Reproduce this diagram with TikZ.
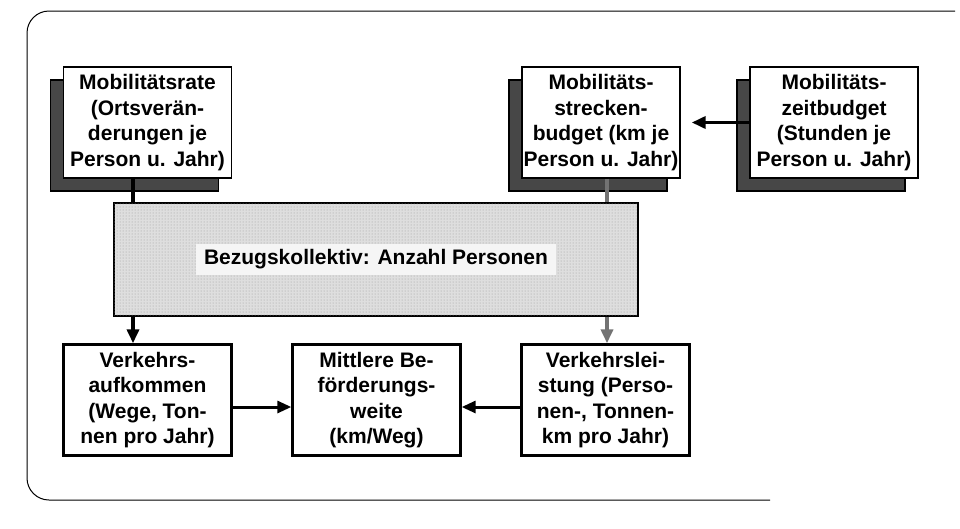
\documentclass[tikz,border=0pt]{standalone}
\usepackage{fontspec}
\setmainfont{Liberation Sans}
\usetikzlibrary{positioning, shadows, arrows.meta, patterns}

\begin{document}
\begin{tikzpicture}[x=1pt, y=-1pt, node distance=229pt, on grid,
    >={Triangle[length=14pt, width=12pt]},
    txt/.style={font=\fontsize{21pt}{25.5pt}\selectfont\bfseries, align=center, inner sep=1pt},
    topbox/.style={txt, draw, line width=1.4pt, fill=white, minimum width=168pt, minimum height=111pt,
      drop shadow={shadow xshift=-13pt, shadow yshift=-13pt, fill=black!72, draw=black, opacity=1}},
    botbox/.style={txt, draw, line width=2.4pt, fill=white, minimum width=168pt, minimum height=111pt},
    conn/.style={line width=4.5pt}]

   \useasboundingbox (0,0) rectangle (960,528);
   \draw[line width=1pt, rounded corners=22pt] (955,11) -- (27,11) -- (27,500) -- (770,500);

   % obere Reihe
   \node[topbox] (rate) at (147.5,122.5) {Mobilitätsrate\\(Ortsverän-\\derungen je\\Person u. Jahr)};
   \node[topbox, minimum width=158pt] (strecke) [right=453.5pt of rate] {Mobilitäts-\\strecken-\\budget (km je\\Person u. Jahr)};
   \node[topbox] (zeit) [right=233pt of strecke] {Mobilitäts-\\zeitbudget\\(Stunden je\\Person u. Jahr)};

   \node[draw, line width=1.4pt, fill=black!13, postaction={pattern=dots, pattern color=black!40},
         minimum width=524pt, minimum height=113pt] (koll) at (376,259.5) {};
   \node[txt, fill=black!4, inner xsep=8pt, inner ysep=6pt] (kolltext) at (koll) {Bezugskollektiv: Anzahl Personen};

   % untere Reihe
   \node[botbox] (aufkommen) [below=277.5pt of rate] {Verkehrs-\\aufkommen\\(Wege, Ton-\\nen pro Jahr)};
   \node[botbox] (weite) [right=of aufkommen] {Mittlere Be-\\förderungs-\\weite\\(km/Weg)};
   \node[botbox] (leistung) [right=of weite] {Verkehrslei-\\stung (Perso-\\nen-, Tonnen-\\km pro Jahr)};

   \coordinate (cl) at (133,0);
   \coordinate (cr) at (607,0);

   \draw[conn] (cl |- rate.south) -- (cl |- koll.north);
   \draw[conn, black!55] (cr |- strecke.south) -- (cr |- koll.north);
   \draw[conn, ->] (cl |- koll.south) -- (cl |- aufkommen.north);
   \draw[conn, ->, black!55] (cr |- koll.south) -- (cr |- leistung.north);

   \draw[line width=3.5pt, ->, shorten >=11pt] (zeit.west) -- (strecke.east);
   \draw[line width=3pt, ->] ([yshift=-7pt]aufkommen.east) -- ([yshift=-7pt]weite.west);
   \draw[line width=3pt, ->] ([yshift=-7pt]leistung.west) -- ([yshift=-7pt]weite.east);
\end{tikzpicture}
\end{document}
